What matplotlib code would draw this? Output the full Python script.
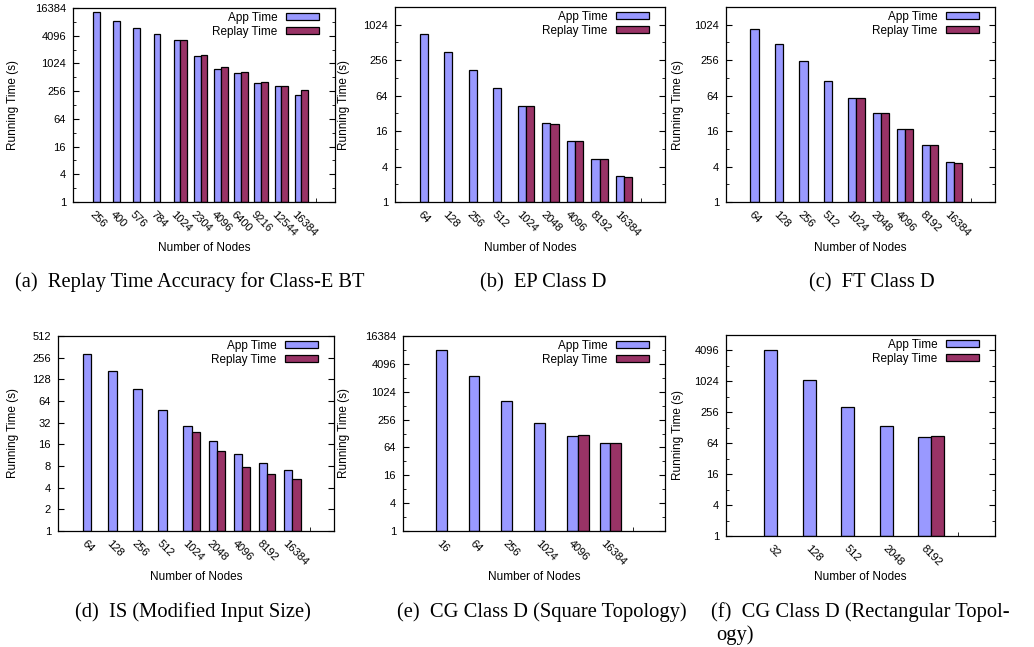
import numpy as np
import matplotlib
matplotlib.use('Agg')
import matplotlib.pyplot as plt
from matplotlib.ticker import FixedLocator, NullFormatter
from matplotlib.transforms import ScaledTranslation

nan = np.nan

# (a) BT class E
bt_nodes = [256, 400, 576, 784, 1024, 2304, 4096, 6400, 9216, 12544, 16384]
bt_app = [13300, 8400, 5950, 4480, 3320, 1470, 790, 647, 393, 327, 212]
bt_replay = [nan, nan, nan, nan, 3320, 1565, 860, 680, 405, 338, 267]

# (b) EP class D
ep_nodes = [64, 128, 256, 512, 1024, 2048, 4096, 8192, 16384]
ep_app = [700, 348, 172, 86.6, 42.9, 21.8, 10.8, 5.42, 2.72]
ep_replay = [nan, nan, nan, nan, 42.9, 21.2, 10.7, 5.3, 2.66]

# (c) FT class D
ft_nodes = [64, 128, 256, 512, 1024, 2048, 4096, 8192, 16384]
ft_app = [866, 475, 245, 114, 59.3, 32.2, 17.3, 9.25, 4.76]
ft_replay = [nan, nan, nan, nan, 59.3, 32.5, 17.3, 9.2, 4.66]

# (d) IS modified input size
is_nodes = [64, 128, 256, 512, 1024, 2048, 4096, 8192, 16384]
is_app = [288, 165, 93, 48.5, 29.1, 17.8, 11.7, 8.7, 6.97]
is_replay = [nan, nan, nan, nan, 24, 12.8, 7.74, 6.27, 5.23]

# (e) CG class D, square topology
cgs_nodes = [16, 64, 256, 1024, 4096, 16384]
cgs_app = [8260, 2190, 633, 219, 115, 78.3]
cgs_replay = [nan, nan, nan, nan, 120, 81]

# (f) CG class D, rectangular topology
cgr_nodes = [32, 128, 512, 2048, 8192]
cgr_app = [4150, 1110, 330, 139, 83]
cgr_replay = [nan, nan, nan, nan, 88]

W, H = 1034, 647
fig = plt.figure(figsize=(W / 100, H / 100), dpi=100)
sans = 'Liberation Sans'
serif = 'Liberation Serif'
app_color = '#9999ff'
replay_color = '#993366'
cap_size = 14.8


def fx(x):
    return x / W


def fy(y):
    return 1 - y / H


# box in pixels, ylabel x, xlabel y, ymax, major ticks, caption (x, y, text)
panels = [
    ((73, 8, 335, 202), 13, 248, 16384, [1, 4, 16, 64, 256, 1024, 4096, 16384],
     bt_nodes, bt_app, bt_replay, (190, 287, '(a)  Replay Time Accuracy for Class-E BT')),
    ((395, 7, 665, 202), 344, 248, 2048, [1, 4, 16, 64, 256, 1024],
     ep_nodes, ep_app, ep_replay, (543, 287, '(b)  EP Class D')),
    ((726, 7, 995, 202), 678, 248, 2048, [1, 4, 16, 64, 256, 1024],
     ft_nodes, ft_app, ft_replay, (872, 287, '(c)  FT Class D')),
    ((58, 336, 334, 531), 13, 577, 512, [1, 2, 4, 8, 16, 32, 64, 128, 256, 512],
     is_nodes, is_app, is_replay, (193, 617, '(d)  IS (Modified Input Size)')),
    ((403, 336, 665, 531), 344, 577, 16384, [1, 4, 16, 64, 256, 1024, 4096, 16384],
     cgs_nodes, cgs_app, cgs_replay, (542, 617, '(e)  CG Class D (Square Topology)')),
    ((726, 335, 995, 536), 678, 577, 8192, [1, 4, 16, 64, 256, 1024, 4096],
     cgr_nodes, cgr_app, cgr_replay, None),
]

w = 1 / 3
for box, ylab_x, xlab_y, ymax, majors, nodes, app, replay, cap in panels:
    x0, y0, x1, y1 = box
    ax = fig.add_axes([fx(x0), fy(y1), (x1 - x0) / W, (y1 - y0) / H])
    n = len(nodes)
    x = np.arange(n)
    app = np.array(app, dtype=float)
    replay = np.array(replay, dtype=float)
    ok = ~np.isnan(replay)

    ax.bar(x - w / 2, app - 1, bottom=1, width=w, color=app_color,
           edgecolor='black', linewidth=0.9, label='App Time')
    ax.bar(x[ok] + w / 2, replay[ok] - 1, bottom=1, width=w, color=replay_color,
           edgecolor='black', linewidth=0.9, label='Replay Time')

    ax.set_yscale('log')
    ax.set_ylim(1, ymax)
    ax.set_xlim(-4 / 3, n + 2 / 3)

    ax.set_yticks(majors, labels=[str(v) for v in majors])
    if majors[1] == 4:
        minors = [v * 2 for v in majors if v * 2 < ymax]
        ax.yaxis.set_minor_locator(FixedLocator(minors))
    else:
        ax.yaxis.set_minor_locator(FixedLocator([]))
    ax.yaxis.set_minor_formatter(NullFormatter())
    ax.tick_params(axis='y', which='major', direction='in', left=True, right=True,
                   length=4, width=0.8, labelsize=8, pad=5)
    ax.tick_params(axis='y', which='minor', direction='in', left=True, right=True,
                   length=2, width=0.6)
    for t in ax.get_yticklabels():
        t.set_family(sans)

    # category labels, rotated like gnuplot's "rotate by -45"
    ax.set_xticks(x, labels=[str(v) for v in nodes])
    ax.tick_params(axis='x', which='major', length=0, pad=8, labelsize=8)
    offset = ScaledTranslation(-8 / 100, 0, fig.dpi_scale_trans)
    for t in ax.get_xticklabels():
        t.set_rotation(-45)
        t.set_ha('left')
        t.set_va('center')
        t.set_rotation_mode('anchor')
        t.set_family(sans)
        t.set_transform(t.get_transform() + offset)
    ax.set_xticks([n - 1 + 0.7], minor=True)
    ax.tick_params(axis='x', which='minor', direction='in', length=3, width=0.6,
                   bottom=True, top=False)

    for s in ax.spines.values():
        s.set_linewidth(0.9)

    # key sits 16 px in from the right frame, gnuplot style (text then sample)
    ax.legend(loc='upper right', bbox_to_anchor=(fx(x1 - 16), fy(y0 + 4)),
              bbox_transform=fig.transFigure, markerfirst=False, frameon=False,
              prop={'family': sans, 'size': 8.5}, handlelength=2.8,
              handleheight=0.55, labelspacing=0.14, handletextpad=0.7,
              borderaxespad=0, borderpad=0)

    fig.text(fx(ylab_x), fy((y0 + y1) / 2), 'Running Time (s)', rotation=90,
             ha='center', va='center', family=sans, fontsize=8.5)
    fig.text(fx((x0 + x1) / 2), fy(xlab_y), 'Number of Nodes', ha='center',
             va='center', family=sans, fontsize=8.5)

    if cap is not None:
        fig.text(fx(cap[0]), fy(cap[1]), cap[2], ha='center', va='baseline',
                 family=serif, fontsize=cap_size)

# caption (f) wraps onto two lines
fig.text(fx(711), fy(617), '(f)  CG Class D (Rectangular Topol-', ha='left',
         va='baseline', family=serif, fontsize=cap_size)
fig.text(fx(716), fy(640), 'ogy)', ha='left', va='baseline', family=serif,
         fontsize=cap_size)

fig.savefig('out.png', dpi=100)
